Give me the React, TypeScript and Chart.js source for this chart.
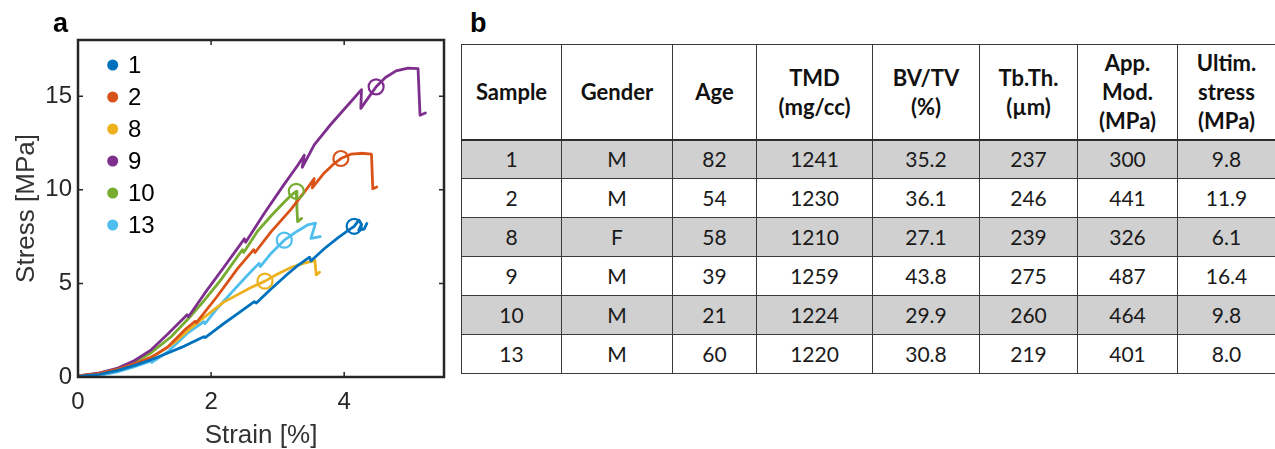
import React, { useEffect, useRef } from "react";
import { Chart, registerables } from "chart.js";

Chart.register(...registerables);

// ---------- chart data ----------
const sampleLabels = ["1", "2", "8", "9", "10", "13"];
const sampleColors = ["#0072BD", "#D95319", "#EDB120", "#7E2F8E", "#77AC30", "#4DBEEE"];

type P = [number, number];

const curve1: P[] = [
  [0, 0.03], [0.3, 0.12], [0.6, 0.35], [0.85, 0.62], [1.1, 0.92], [1.35, 1.28], [1.6, 1.65],
  [1.89, 2.15], [1.91, 2.1], [2.15, 2.75], [2.4, 3.38], [2.65, 4.02], [2.68, 3.95], [2.9, 4.7],
  [3.15, 5.5], [3.3, 5.95], [3.48, 6.4], [3.5, 6.2], [3.7, 6.85], [3.9, 7.42], [4.05, 7.8],
  [4.15, 8.05], [4.22, 8.38], [4.26, 8.15], [4.22, 7.85], [4.3, 7.9], [4.34, 8.2],
];
const curve2: P[] = [
  [0, 0.06], [0.3, 0.18], [0.6, 0.42], [0.85, 0.7], [1.1, 1.05], [1.35, 1.6], [1.6, 2.5],
  [1.76, 2.98], [1.78, 2.9], [2.09, 4.3], [2.4, 5.8], [2.64, 6.8], [2.66, 6.65], [2.9, 7.75],
  [3.2, 8.95], [3.45, 10.1], [3.55, 10.6], [3.52, 10.1], [3.7, 10.9], [3.85, 11.4], [3.95, 11.67],
  [4.1, 11.9], [4.25, 11.95], [4.41, 11.9], [4.43, 10.05], [4.49, 10.15],
];
const curve8: P[] = [
  [0, 0.04], [0.3, 0.14], [0.6, 0.38], [0.9, 0.72], [1.2, 1.25], [1.45, 1.85], [1.64, 2.45],
  [1.9, 3.2], [2.19, 4.0], [2.4, 4.4], [2.6, 4.78], [2.81, 5.12], [3.0, 5.5], [3.2, 5.85],
  [3.4, 6.08], [3.56, 6.22], [3.58, 5.45], [3.63, 5.6],
];
const curve9: P[] = [
  [0, 0.06], [0.3, 0.2], [0.6, 0.48], [0.85, 0.88], [1.1, 1.45], [1.35, 2.3], [1.64, 3.32],
  [1.66, 3.22], [1.9, 4.45], [2.2, 5.9], [2.5, 7.38], [2.52, 7.2], [2.8, 8.75], [3.1, 10.3],
  [3.3, 11.3], [3.4, 11.85], [3.37, 11.2], [3.55, 12.4], [3.8, 13.5], [4.05, 14.5], [4.26, 15.35],
  [4.25, 14.35], [4.38, 15.0], [4.48, 15.5], [4.62, 16.0], [4.78, 16.35], [4.96, 16.5],
  [5.11, 16.47], [5.14, 13.98], [5.22, 14.1],
];
const curve10: P[] = [
  [0, 0.05], [0.3, 0.18], [0.6, 0.45], [0.85, 0.8], [1.1, 1.3], [1.4, 2.15], [1.66, 3.12],
  [1.9, 4.1], [2.15, 5.2], [2.47, 6.8], [2.49, 6.65], [2.7, 7.8], [2.9, 8.6], [3.1, 9.35],
  [3.2, 9.7], [3.28, 9.92], [3.29, 9.0], [3.3, 8.3], [3.36, 8.47],
];
const curve13: P[] = [
  [0, 0.02], [0.3, 0.08], [0.6, 0.28], [0.85, 0.55], [1.09, 0.84], [1.11, 0.78], [1.35, 1.35],
  [1.64, 2.33], [1.89, 2.95], [1.91, 2.85], [2.1, 3.7], [2.34, 4.64], [2.55, 5.45], [2.72, 6.07],
  [2.74, 5.9], [2.9, 6.6], [3.1, 7.31], [3.3, 7.8], [3.45, 8.12], [3.57, 8.22], [3.5, 7.4],
  [3.64, 7.5],
];
const curves: P[][] = [curve1, curve2, curve8, curve9, curve10, curve13];

// circle markers on each curve
const markerPoints: P[] = [
  [4.15, 8.05], [3.95, 11.67], [2.81, 5.12], [4.48, 15.5], [3.28, 9.92], [3.1, 7.31],
];

const xTicks = [0, 2, 4];
const yTicks = [0, 5, 10, 15];
const xRange: P = [0, 5.5];
const yRange: P = [0, 18];
const xTitle = "Strain [%]";
const yTitle = "Stress [MPa]";

// ---------- table data ----------
const headerLines: string[][] = [
  ["Sample"], ["Gender"], ["Age"], ["TMD", "(mg/cc)"], ["BV/TV", "(%)"],
  ["Tb.Th.", "(µm)"], ["App.", "Mod.", "(MPa)"], ["Ultim.", "stress", "(MPa)"],
];
const sampleIds = ["1", "2", "8", "9", "10", "13"];
const genders = ["M", "M", "F", "M", "M", "M"];
const ages = ["82", "54", "58", "39", "21", "60"];
const tmd = ["1241", "1230", "1210", "1259", "1224", "1220"];
const bvtv = ["35.2", "36.1", "27.1", "43.8", "29.9", "30.8"];
const tbth = ["237", "246", "239", "275", "260", "219"];
const appMod = ["300", "441", "326", "487", "464", "401"];
const ultStress = ["9.8", "11.9", "6.1", "16.4", "9.8", "8.0"];
const tableColumns = [sampleIds, genders, ages, tmd, bvtv, tbth, appMod, ultStress];

// ---------- layout ----------
const colWidths = [100, 111, 84, 116, 107, 98, 100, 98];
const FONT = '"Liberation Sans", Arial, Helvetica, sans-serif';
const AXIS_COLOR = "#262626";

const framePlugin = {
  id: "frameTicks",
  afterDatasetsDraw(chart: any) {
    const { ctx, chartArea: ca, scales } = chart;
    const xs = scales.x;
    const ys = scales.y;
    const tl = 5;
    ctx.save();
    ctx.strokeStyle = AXIS_COLOR;
    ctx.lineWidth = 1.5;
    ctx.beginPath();
    xTicks.forEach((v) => {
      const px = xs.getPixelForValue(v);
      ctx.moveTo(px, ca.bottom);
      ctx.lineTo(px, ca.bottom - tl);
      ctx.moveTo(px, ca.top);
      ctx.lineTo(px, ca.top + tl);
    });
    yTicks.forEach((v) => {
      const py = ys.getPixelForValue(v);
      ctx.moveTo(ca.left, py);
      ctx.lineTo(ca.left + tl, py);
      ctx.moveTo(ca.right, py);
      ctx.lineTo(ca.right - tl, py);
    });
    ctx.stroke();
    ctx.lineWidth = 2.5;
    ctx.strokeRect(ca.left, ca.top, ca.right - ca.left, ca.bottom - ca.top);
    ctx.restore();
  },
};

const legendPlugin = {
  id: "insideLegend",
  afterDraw(chart: any) {
    const { ctx, chartArea: ca } = chart;
    const ds = chart.data.datasets.filter((d: any) => !d.isMarker);
    ctx.save();
    ctx.font = `24px ${FONT}`;
    ctx.textBaseline = "middle";
    ctx.textAlign = "left";
    ds.forEach((d: any, i: number) => {
      const y = ca.top + 25 + i * 32;
      ctx.beginPath();
      ctx.arc(ca.left + 34.7, y, 5.5, 0, Math.PI * 2);
      ctx.fillStyle = d.borderColor;
      ctx.fill();
      ctx.fillStyle = "#000";
      ctx.fillText(d.label, ca.left + 50, y + 1.2);
    });
    ctx.restore();
  },
};

function StressChart() {
  const ref = useRef<HTMLCanvasElement | null>(null);
  useEffect(() => {
    if (!ref.current) return;
    const lineSets = curves.map((c, i) => ({
      label: sampleLabels[i],
      data: c.map(([x, y]) => ({ x, y })),
      showLine: true,
      borderColor: sampleColors[i],
      backgroundColor: sampleColors[i],
      borderWidth: 2.8,
      pointRadius: 0,
      tension: 0,
      borderJoinStyle: "round" as const,
      borderCapStyle: "round" as const,
      order: 2,
    }));
    const markerSets = markerPoints.map((p, i) => ({
      label: "",
      isMarker: true,
      data: [{ x: p[0], y: p[1] }],
      showLine: false,
      pointRadius: 7.5,
      pointBorderWidth: 2.2,
      pointBackgroundColor: "rgba(0,0,0,0)",
      pointBorderColor: sampleColors[i],
      borderColor: sampleColors[i],
      order: 1,
    }));
    const chart = new Chart(ref.current, {
      type: "scatter",
      data: { datasets: [...lineSets, ...markerSets] as any },
      options: {
        animation: false,
        responsive: false,
        events: [],
        layout: { padding: { left: 0, top: 40, right: 16, bottom: 0 } },
        plugins: { legend: { display: false }, tooltip: { enabled: false } },
        scales: {
          x: {
            type: "linear",
            min: xRange[0],
            max: xRange[1],
            afterBuildTicks: (s: any) => {
              s.ticks = xTicks.map((v) => ({ value: v }));
            },
            afterFit: (s: any) => {
              s.height = 72;
            },
            grid: { display: false, drawTicks: false },
            border: { display: false },
            ticks: { color: AXIS_COLOR, font: { family: FONT, size: 24 }, padding: 11, maxRotation: 0 },
            title: {
              display: true,
              text: xTitle,
              color: "#333",
              font: { family: FONT, size: 26, lineHeight: 1 },
              padding: { top: 0, bottom: 0 },
            },
          },
          y: {
            type: "linear",
            min: yRange[0],
            max: yRange[1],
            afterBuildTicks: (s: any) => {
              s.ticks = yTicks.map((v) => ({ value: v }));
            },
            afterFit: (s: any) => {
              s.width = 78;
            },
            grid: { display: false, drawTicks: false },
            border: { display: false },
            ticks: { color: AXIS_COLOR, font: { family: FONT, size: 24 }, padding: 6 },
            title: {
              display: true,
              text: yTitle,
              color: "#333",
              font: { family: FONT, size: 26, lineHeight: 1 },
              padding: { top: 14, bottom: 0 },
            },
          },
        },
      },
      plugins: [framePlugin, legendPlugin],
    });
    return () => chart.destroy();
  }, []);
  return (
    <canvas
      ref={ref}
      width={460}
      height={449}
      style={{ position: "absolute", left: 0, top: 0, width: 460, height: 449 }}
    />
  );
}

function DataTable() {
  const cellBase: React.CSSProperties = {
    border: "1.3px solid #3a3a3a",
    textAlign: "center",
    verticalAlign: "middle",
    padding: 0,
    fontFamily: "Lato, 'Open Sans', sans-serif",
    color: "#1a1a1a",
  };
  return (
    <table
      style={{
        position: "absolute",
        left: 461,
        top: 44,
        borderCollapse: "collapse",
        tableLayout: "fixed",
        width: colWidths.reduce((a, b) => a + b, 0),
      }}
    >
      <colgroup>
        {colWidths.map((w, i) => (
          <col key={i} style={{ width: w }} />
        ))}
      </colgroup>
      <thead>
        <tr style={{ height: 95 }}>
          {headerLines.map((lines, i) => (
            <th
              key={i}
              style={{
                ...cellBase,
                borderBottom: "2.6px solid #2e2e2e",
                fontWeight: 700,
                fontSize: 22,
                lineHeight: "29px",
                color: "#111",
              }}
            >
              {lines.map((l, j) => (
                <div key={j}>{l}</div>
              ))}
            </th>
          ))}
        </tr>
      </thead>
      <tbody>
        {sampleIds.map((_, r) => (
          <tr key={r} style={{ height: 39, background: r % 2 === 0 ? "#d0d0d0" : "#ffffff" }}>
            {tableColumns.map((col, c) => (
              <td key={c} style={{ ...cellBase, fontSize: 21, lineHeight: "24px" }}>
                {col[r]}
              </td>
            ))}
          </tr>
        ))}
      </tbody>
    </table>
  );
}

export default function App() {
  const panelLabel: React.CSSProperties = {
    position: "absolute",
    top: 10,
    fontFamily: FONT,
    fontWeight: 700,
    fontSize: 27,
    lineHeight: "27px",
    color: "#000",
  };
  return (
    <div
      style={{
        position: "absolute",
        left: 0,
        top: 0,
        width: 1275,
        height: 449,
        overflow: "hidden",
        background: "#fff",
      }}
    >
      <StressChart />
      <div style={{ ...panelLabel, left: 53 }}>a</div>
      <div style={{ ...panelLabel, left: 470 }}>b</div>
      <DataTable />
    </div>
  );
}
